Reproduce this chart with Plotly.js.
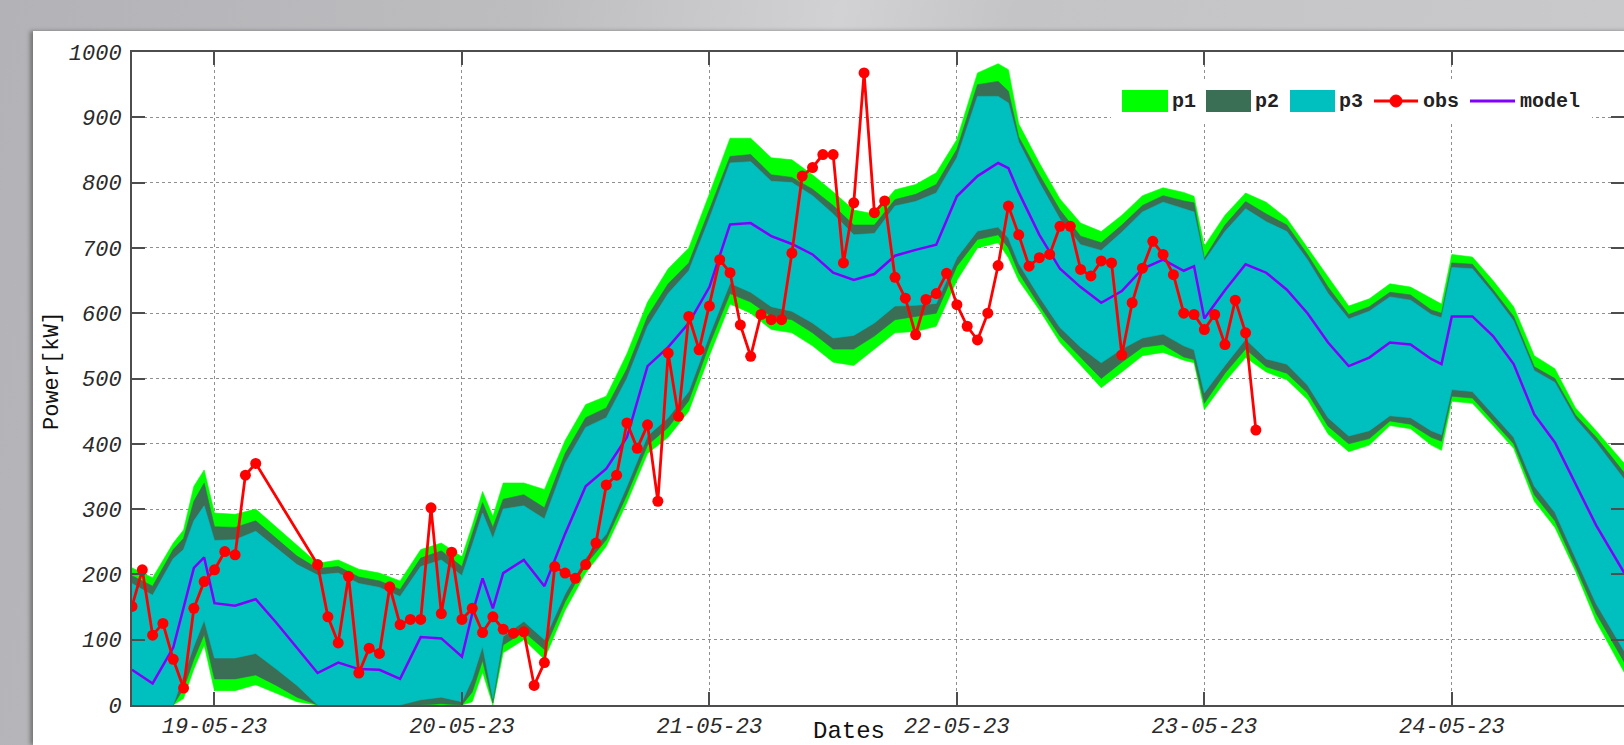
<!DOCTYPE html>
<html>
<head>
<meta charset="utf-8">
<script src="https://cdn.plot.ly/plotly-3.0.1.min.js"></script>
<style>
  html, body { margin: 0; padding: 0; width: 1624px; height: 745px; overflow: hidden; }
  body { background: linear-gradient(100deg, #b3b3b7 0%, #bdbdc0 30%, #d2d2d4 48%, #c4c4c7 58%, #cacacd 100%); position: relative; }
  #panel { position: absolute; left: 33px; top: 31px; width: 1600px; height: 714px; background: #fff; box-shadow: -3px 0 4px rgba(0,0,0,0.35); }
  #chart { width: 1600px; height: 714px; }
</style>
</head>
<body>
<div id="panel"><div id="chart"></div></div>
<script>
// Time axis: hours since 19-05-23 00:00
const hours = [-8,-6,-4,-3,-2,-1,0,2,4,6,8,10,12,14,16,18,20,22,24,25,26,27,28,30,32,34,36,38,40,42,44,46,48,50,52,54,56,58,60,62,64,66,68,70,72,74,76,77,78,80,82,84,86,88,90,92,94,95,96,98,100,102,104,106,108,110,112,114,116,118,119,120,122,124,126,128,130,132,134,137];

const p1Upper = [210,195,248,268,335,360,294,292,300,272,245,217,222,208,202,190,238,248,227,275,327,289,340,340,330,405,460,473,538,617,668,700,783,868,868,838,835,812,786,758,752,789,797,815,866,968,982,973,890,830,775,738,725,750,780,792,785,779,703,750,784,770,745,700,655,611,622,645,640,622,614,690,686,650,610,535,515,455,420,365];
const p2Upper = [198,182,238,255,312,340,273,272,282,255,228,209,212,196,190,177,225,236,212,262,310,272,315,322,302,385,440,455,515,595,645,677,758,840,843,812,808,790,765,735,735,774,782,797,851,950,955,940,870,812,758,718,708,735,765,780,772,769,684,735,771,752,735,690,640,598,610,632,628,605,600,677,675,636,595,518,500,444,410,350];
const p3Upper = [186,168,224,238,282,305,252,253,266,240,215,199,202,186,180,166,212,222,198,245,294,255,300,305,285,370,425,440,500,580,630,665,745,830,832,802,800,780,752,720,722,764,771,784,838,932,932,922,862,800,744,705,696,724,755,770,760,755,680,725,760,740,725,682,630,591,603,625,620,598,593,670,668,630,588,512,494,438,402,340];
const p3Lower = [0,0,0,45,90,130,72,72,79,55,30,0,0,0,0,0,8,12,5,40,90,10,105,128,100,170,225,262,335,412,440,480,566,646,632,610,603,585,562,566,585,611,612,615,685,726,732,715,676,625,578,548,524,545,562,568,550,544,478,520,560,530,522,490,440,412,420,443,440,420,414,483,480,445,410,335,295,225,155,75];
const p2Lower = [0,0,0,25,70,108,40,40,46,30,12,0,0,0,0,0,0,2,0,20,68,3,92,112,85,158,215,253,322,398,425,466,552,630,617,595,590,570,545,545,565,590,595,600,672,713,720,700,662,612,565,532,500,525,548,552,533,529,462,508,545,518,508,478,427,400,408,435,430,410,404,473,470,435,400,322,282,212,140,58];
const p1Lower = [0,0,0,10,55,92,22,22,31,18,5,0,0,0,0,0,0,0,0,5,50,0,80,100,70,145,202,243,310,385,410,450,535,614,600,575,570,550,525,520,545,570,572,580,650,700,708,685,650,605,555,520,486,510,535,540,528,524,452,495,532,510,498,468,415,388,398,428,423,398,390,465,462,428,393,312,272,205,128,42];
const model = [54,33,88,150,210,226,156,152,162,126,88,49,65,55,54,40,104,102,74,140,194,148,202,222,182,262,335,362,410,519,548,585,640,736,738,718,706,690,662,651,660,688,697,705,779,810,830,822,785,720,668,640,616,634,668,682,665,672,592,635,675,662,636,600,555,519,532,555,552,530,522,595,595,565,522,445,402,338,275,195];

const obsHours = [-8,-7,-6,-5,-4,-3,-2,-1,0,1,2,3,4,10,11,12,13,14,15,16,17,18,19,20,21,22,23,24,25,26,27,28,29,30,31,32,33,34,35,36,37,38,39,40,41,42,43,44,45,46,47,48,49,50,51,52,53,54,55,56,57,58,59,60,61,62,63,64,65,66,67,68,69,70,71,72,73,74,75,76,77,78,79,80,81,82,83,84,85,86,87,88,89,90,91,92,93,94,95,96,97,98,99,100,101];
const obsValues = [151,207,107,125,70,26,148,189,207,235,230,352,370,215,135,95,197,49,87,79,181,123,131,131,302,140,234,131,148,111,135,116,110,112,30,65,212,202,194,215,248,337,352,432,393,429,312,539,442,595,544,611,682,662,582,534,598,590,590,692,810,823,843,843,677,769,968,754,772,655,623,567,621,630,661,613,580,559,600,673,764,720,672,685,690,733,733,667,657,680,677,536,616,669,710,690,659,600,598,575,598,552,620,570,421];

const dayTicks = [0,24,48,72,96,120];
const dayLabels = ['19-05-23','20-05-23','21-05-23','22-05-23','23-05-23','24-05-23'];
const yTicks = [0,100,200,300,400,500,600,700,800,900,1000];

const seriesNames = ['p1','p2','p3','obs','model'];
const colors = { p1:'#00ff00', p2:'#3b6f55', p3:'#00bfbf', obs:'#ff0000', model:'#8000ff' };

function band(lower, upper, name, color) {
  return [
    { x: hours, y: lower, type:'scatter', mode:'lines', line:{width:0.6, color:color}, hoverinfo:'skip', showlegend:false, name:name+' low' },
    { x: hours, y: upper, type:'scatter', mode:'lines', line:{width:0.6, color:color}, fill:'tonexty', fillcolor:color, hoverinfo:'skip', showlegend:false, name:name }
  ];
}

const traces = [].concat(
  band(p1Lower, p1Upper, 'p1', colors.p1),
  band(p2Lower, p2Upper, 'p2', colors.p2),
  band(p3Lower, p3Upper, 'p3', colors.p3),
  [
    { x: hours, y: model, type:'scatter', mode:'lines', line:{width:2.5, color:colors.model}, name:'model', showlegend:false },
    { x: obsHours, y: obsValues, type:'scatter', mode:'lines+markers', line:{width:2.8, color:colors.obs}, marker:{size:11, color:colors.obs, symbol:'circle'}, name:'obs', showlegend:false }
  ]
);

// Plot area in page pixels: x 132..1624, y 52..705
const PX0 = 132, PX1 = 1624, PY0 = 52, PY1 = 705;
const px = X => (X - PX0) / (PX1 - PX0);
const py = Y => (PY1 - Y) / (PY1 - PY0);

const monoFont = 'Liberation Mono, Courier New, monospace';
const shapes = [];
const annotations = [];

// legend box
shapes.push({ type:'rect', xref:'paper', yref:'paper', x0:px(1111), x1:px(1592), y0:py(122), y1:py(79), fillcolor:'#ffffff', line:{width:0}, layer:'above' });
const swatches = [ ['p1',1122,1168,1170], ['p2',1206,1251,1253], ['p3',1290,1335,1337] ];
swatches.forEach(s => {
  shapes.push({ type:'rect', xref:'paper', yref:'paper', x0:px(s[1]), x1:px(s[2]), y0:py(112), y1:py(90), fillcolor:colors[s[0]], line:{width:0}, layer:'above' });
  annotations.push({ xref:'paper', yref:'paper', x:px(s[3]), y:py(101), xanchor:'left', yanchor:'middle', text:s[0], showarrow:false, font:{family:monoFont, size:20, weight:'bold', color:'#222'} });
});
shapes.push({ type:'line', xref:'paper', yref:'paper', x0:px(1374), x1:px(1418), y0:py(101), y1:py(101), line:{color:colors.obs, width:2.8}, layer:'above' });
shapes.push({ type:'circle', xref:'paper', yref:'paper', x0:px(1390), x1:px(1402), y0:py(107), y1:py(95), fillcolor:colors.obs, line:{color:colors.obs, width:1}, layer:'above' });
annotations.push({ xref:'paper', yref:'paper', x:px(1421), y:py(101), xanchor:'left', yanchor:'middle', text:'obs', showarrow:false, font:{family:monoFont, size:20, weight:'bold', color:'#222'} });
shapes.push({ type:'line', xref:'paper', yref:'paper', x0:px(1470), x1:px(1515), y0:py(101), y1:py(101), line:{color:colors.model, width:2.8}, layer:'above' });
annotations.push({ xref:'paper', yref:'paper', x:px(1518), y:py(101), xanchor:'left', yanchor:'middle', text:'model', showarrow:false, font:{family:monoFont, size:20, weight:'bold', color:'#222'} });

// axis titles
annotations.push({ xref:'paper', yref:'paper', x:px(849), y:py(746), xanchor:'center', yanchor:'bottom', text:'Dates', showarrow:false, borderpad:0, font:{family:monoFont, size:24, color:'#111'} });
annotations.push({ xref:'paper', yref:'paper', x:px(52), y:py(371), xanchor:'center', yanchor:'middle', text:'Power[kW]', textangle:-90, showarrow:false, font:{family:monoFont, size:22, color:'#111'} });

const axisCommon = {
  showline:true, linecolor:'#4d4d4d', linewidth:2, mirror:'ticks',
  ticks:'inside', ticklen:13, tickwidth:2, tickcolor:'#4d4d4d',
  showgrid:true, gridcolor:'#8f8f8f', gridwidth:1, griddash:'dot',
  zeroline:false,
  tickfont:{family:monoFont, size:22, style:'italic', color:'#2a2a2a'}
};

const layout = {
  width:1600, height:714,
  margin:{l:99, r:9, t:21, b:40},
  paper_bgcolor:'#ffffff', plot_bgcolor:'#ffffff',
  showlegend:false,
  xaxis: Object.assign({}, axisCommon, { range:[-8, 136.7], tickmode:'array', tickvals:dayTicks, ticktext:dayLabels, title:{text:''} }),
  yaxis: Object.assign({}, axisCommon, { range:[0,1000], tickmode:'array', tickvals:yTicks, ticktext:yTicks.map(String), title:{text:''}, ticklabelstandoff:4 }),
  shapes: shapes,
  annotations: annotations
};

Plotly.newPlot('chart', traces, layout, {displayModeBar:false, staticPlot:true});
</script>
</body>
</html>
